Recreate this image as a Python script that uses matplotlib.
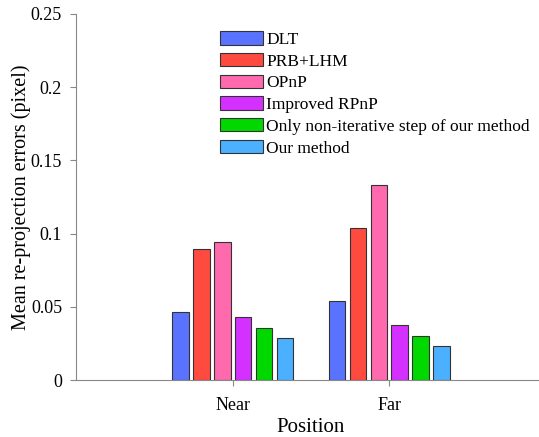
import matplotlib.pyplot as plt
import numpy as np

positions = ["Near", "Far"]
methods = ["DLT", "PRB+LHM", "OPnP", "Improved RPnP",
           "Only non-iterative step of our method", "Our method"]
near_err = [0.0462, 0.0893, 0.0945, 0.0430, 0.0353, 0.0285]
far_err = [0.0540, 0.1040, 0.1334, 0.0374, 0.0303, 0.0230]
colors = ["#5a73ff", "#ff4a40", "#ff6aaf", "#d430ff", "#00d800", "#4bb0ff"]

plt.rcParams['font.family'] = ['Liberation Serif', 'DejaVu Serif']

fig = plt.figure(figsize=(5.39, 4.37), dpi=100)
# the original is cropped on the right, so the axes run past the edge
ax = fig.add_axes([0.141, 0.1304, 0.872, 0.8376])

x = np.arange(1, len(positions) + 1)
pitch = 0.8 / len(methods)
for i, (name, col) in enumerate(zip(methods, colors)):
    vals = [near_err[i], far_err[i]]
    offs = (i - (len(methods) - 1) / 2) * pitch
    ax.bar(x + offs, vals, width=pitch * 0.8, color=col, edgecolor="#333333",
           linewidth=0.8, label=name)

ax.set_xlim(0, 3)
ax.set_ylim(0, 0.25)
ax.set_xticks(x)
ax.set_xticklabels(positions)
ax.set_yticks([0, 0.05, 0.1, 0.15, 0.2, 0.25])
ax.set_yticklabels(["0", "0.05", "0.1", "0.15", "0.2", "0.25"])
ax.tick_params(labelsize=13, length=4, color="#888888", direction="out")
ax.tick_params(axis="x", pad=8)
ax.tick_params(axis="y", pad=6)
ax.set_xlabel("Position", fontsize=15, labelpad=3)
ax.set_ylabel("Mean re-projection errors (pixel)", fontsize=14.5, labelpad=0)
for s in ["top", "right"]:
    ax.spines[s].set_visible(False)
for s in ["left", "bottom"]:
    ax.spines[s].set_color("#888888")

ax.legend(loc="upper left", bbox_to_anchor=(0.285, 0.981), frameon=False,
          fontsize=12.5, handlelength=2.45, handleheight=0.8, handletextpad=0.2,
          labelspacing=0.29, borderaxespad=0.2)

plt.savefig("out.png")
